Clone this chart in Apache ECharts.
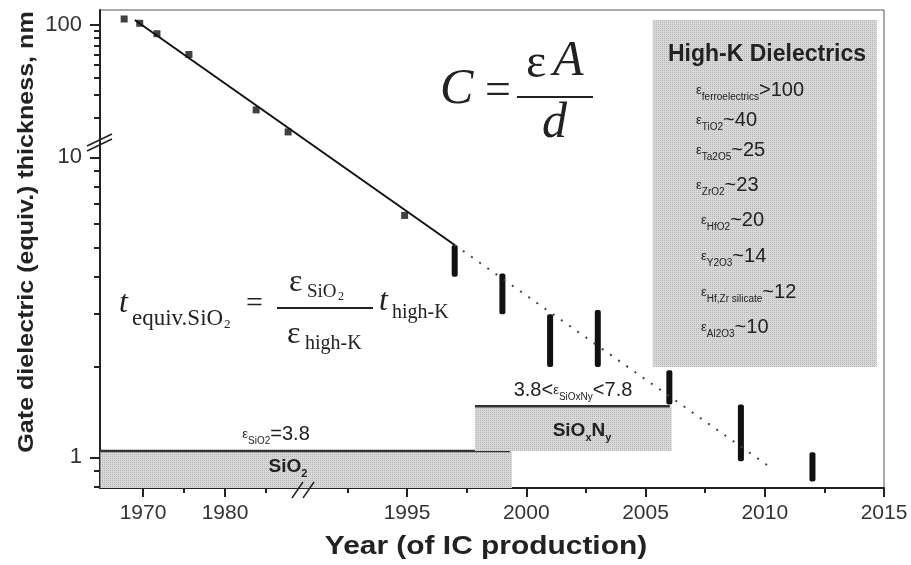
<!DOCTYPE html>
<html>
<head>
<meta charset="utf-8">
<script src="https://cdn.jsdelivr.net/npm/echarts@6/dist/echarts.min.js"></script>
<style>
  html, body { margin: 0; background: #fff; }
  #chart { width: 911px; height: 565px; }
</style>
</head>
<body>
<div id="chart"></div>
<script>
// measured gate oxide thickness (nm) vs year
const measuredYears = [1967.7, 1969.6, 1971.7, 1975.6, 1983.8, 1987.7, 1994.9]
const measuredThickness = [111, 103, 86, 60, 23, 15.7, 6.4]
// fitted trend
const fitYears = [1969.0, 1997]
const fitThickness = [109, 5.1]
// roadmap ranges
const roadmapYears = [1997, 1999, 2001, 2003, 2006, 2009, 2012]
const roadmapLow = [4.0, 3.0, 2.0, 2.0, 1.5, 0.97, 0.83]
const roadmapHigh = [5.1, 4.1, 3.0, 3.1, 1.95, 1.5, 1.04]
// dotted extrapolation
const trendYears = [1997, 2010.2]
const trendThickness = [5.1, 0.93]
// shaded material regions
const bandNames = ['SiO2', 'SiOxNy', 'High-K']
const bandStartYears = [1964.8, 1997.85, 2005.3]
const bandEndYears = [1999.4, 2006.1, 2014.7]
const bandLow = [0.79, 1.05, 2.0]
const bandHigh = [1.05, 1.48, 109]
// axis ticks
const xMajorYears = [1970, 1980, 1995, 2000, 2005, 2010, 2015]
const xMinorYears = [1975, 1985, 1992.5, 1997.5, 2002.5, 2007.5, 2012.5]
const yMajorTicks = [1, 10, 100]
const yMinorTicks = [0.8, 0.9, 2, 3, 4, 5, 6, 7, 8, 9, 20, 30, 40, 50, 60, 70, 80, 90]
// high-K list
const highKMaterials = ['ferroelectrics', 'TiO2', 'Ta2O5', 'ZrO2', 'HfO2', 'Y2O3', 'Hf,Zr silicate', 'Al2O3']
const highKValues = ['>100', '~40', '~25', '~23', '~20', '~14', '~12', '~10']

// broken axes -> piecewise mapping into plot units
function xv(yr) {
  return yr < 1990 ? 43 + (yr - 1970) * 8.2 : 307 + (yr - 1995) * 23.85
}
function yv(t) {
  return t < 12.5 ? (Math.log10(t) - Math.log10(0.79)) * 300 : 463 + (Math.log10(t) - 2) * 133
}

// fine stipple fill like the scanned grey
function stipple() {
  const c = document.createElement('canvas')
  c.width = 2; c.height = 2
  const g = c.getContext('2d')
  g.fillStyle = '#d8d8d8'; g.fillRect(0, 0, 2, 2)
  g.fillStyle = '#b6b6b6'; g.fillRect(0, 0, 1, 1)
  return { image: c, repeat: 'repeat' }
}
const greyFill = stipple()

const SANS = 'Liberation Sans, Arial, sans-serif'
const SERIF = 'Liberation Serif, Times New Roman, serif'
const INK = '#222'

function txt(x, y, text, font, extra, el) {
  return Object.assign({
    type: 'text', x: x, y: y, z: 20,
    style: Object.assign({ text: text, font: font, fill: INK, align: 'left', verticalAlign: 'middle' }, extra || {})
  }, el || {})
}
function seg(x1, y1, x2, y2, w) {
  return { type: 'line', z: 20, shape: { x1: x1, y1: y1, x2: x2, y2: y2 }, style: { stroke: INK, lineWidth: w || 2 } }
}

const subRich = {
  e: { fontSize: 13, fontFamily: SANS, color: INK },
  s: { fontSize: 10, fontFamily: SANS, color: INK, verticalAlign: 'bottom', lineHeight: 9 },
  v: { fontSize: 20, fontFamily: SANS, color: INK, lineHeight: 24 },
  b: { fontSize: 19, fontFamily: SANS, fontWeight: 'bold', color: INK, lineHeight: 24 },
  bs: { fontSize: 11, fontFamily: SANS, fontWeight: 'bold', color: INK, verticalAlign: 'bottom', lineHeight: 10 }
}

let graphics = []
// C = eps A / d
graphics.push(txt(440, 90, 'C', 'italic 50px ' + SERIF))
graphics.push(txt(485, 92, '=', '46px ' + SERIF))
graphics.push(seg(517, 97, 593, 97, 2))
graphics.push(txt(526, 64, 'ε', '48px ' + SERIF))
graphics.push(txt(553, 62, 'A', 'italic 50px ' + SERIF))
graphics.push(txt(542, 124, 'd', 'italic 50px ' + SERIF))
// t_equiv formula
graphics.push(txt(119, 304, 't', 'italic 32px ' + SERIF))
graphics.push(txt(132, 319, 'equiv.SiO', '23px ' + SERIF))
graphics.push(txt(224, 325, '2', '13px ' + SERIF))
graphics.push(txt(246, 304, '=', '30px ' + SERIF))
graphics.push(seg(277, 308, 373, 308, 2))
graphics.push(txt(289, 283, 'ε', '32px ' + SERIF))
graphics.push(txt(307, 292, 'SiO', '19px ' + SERIF))
graphics.push(txt(338, 297, '2', '12px ' + SERIF))
graphics.push(txt(287, 335, 'ε', '32px ' + SERIF))
graphics.push(txt(305, 344, 'high-K', '20px ' + SERIF))
graphics.push(txt(379, 302, 't', 'italic 32px ' + SERIF))
graphics.push(txt(392, 313, 'high-K', '20px ' + SERIF))
// high-K box
graphics.push(txt(767, 55, 'High-K Dielectrics', 'bold 23px ' + SANS, { align: 'center' }))
const rowY = [90, 120, 150, 185, 220, 256, 292, 327]
highKMaterials.forEach(function (m, i) {
  graphics.push(txt(i < 4 ? 696 : 701, rowY[i], '{e|ε}{s|' + m + '}{v|' + highKValues[i] + '}', '20px ' + SANS, { rich: subRich }))
})
// band labels
graphics.push(txt(276, 434, '{e|ε}{s|SiO2}{v|=3.8}', '20px ' + SANS, { rich: subRich, align: 'center' }))
graphics.push(txt(288, 467, '{b|SiO}{bs|2}', 'bold 19px ' + SANS, { rich: subRich, align: 'center' }))
graphics.push(txt(573, 390, '{v|3.8<}{e|ε}{s|SiOxNy}{v|<7.8}', '20px ' + SANS, { rich: subRich, align: 'center' }))
graphics.push(txt(582, 431, '{b|SiO}{bs|x}{b|N}{bs|y}', 'bold 19px ' + SANS, { rich: subRich, align: 'center' }))
// axis titles (wide lettering in the original)
graphics.push(txt(27, 232, 'Gate dielectric (equiv.) thickness, nm', 'bold 22px ' + SANS,
  { align: 'center' }, { rotation: Math.PI / 2, scaleX: 1.14 }))
graphics.push(txt(486, 547, 'Year (of IC production)', 'bold 26px ' + SANS,
  { align: 'center' }, { scaleX: 1.15 }))
// axis break marks
graphics.push(seg(87, 146, 112, 134, 1.5))
graphics.push(seg(87, 151, 112, 139, 1.5))
graphics.push(seg(292, 498, 303, 482, 1.5))
graphics.push(seg(303, 498, 314, 482, 1.5))

const xMajor = xMajorYears.map(xv)
const yMajor = yMajorTicks.map(yv)

const option = {
  backgroundColor: '#fff',
  animation: false,
  grid: { left: 100, right: 27, top: 10, bottom: 77, show: true, borderColor: '#555', borderWidth: 1 },
  xAxis: [{
    type: 'value', min: 0, max: 784, position: 'bottom',
    axisLine: { lineStyle: { color: INK, width: 2 } },
    axisTick: { customValues: xMajor, length: 9, lineStyle: { color: INK, width: 2 } },
    axisLabel: {
      customValues: xMajor, margin: 15, fontFamily: SANS, fontSize: 21, color: '#333',
      formatter: function (v) {
        const i = xMajor.findIndex(function (m) { return Math.abs(m - v) < 0.01 })
        return i < 0 ? '' : String(xMajorYears[i])
      }
    },
    splitLine: { show: false }
  }, {
    type: 'value', min: 0, max: 784, position: 'bottom', offset: 0,
    axisLine: { show: false },
    axisTick: { customValues: xMinorYears.map(xv), length: 5, lineStyle: { color: INK, width: 2 } },
    axisLabel: { show: false },
    splitLine: { show: false }
  }],
  yAxis: [{
    type: 'value', min: 0, max: 478, position: 'left',
    axisLine: { lineStyle: { color: INK, width: 2 } },
    axisTick: { customValues: yMajor, length: 10, lineStyle: { color: INK, width: 2 } },
    axisLabel: {
      customValues: yMajor, margin: 18, fontFamily: SANS, fontSize: 22, color: '#333',
      formatter: function (v) {
        const i = yMajor.findIndex(function (m) { return Math.abs(m - v) < 0.01 })
        return i < 0 ? '' : String(yMajorTicks[i])
      }
    },
    splitLine: { show: false }
  }, {
    type: 'value', min: 0, max: 478, position: 'left', offset: 0,
    axisLine: { show: false },
    axisTick: { customValues: yMinorTicks.map(yv), length: 6, lineStyle: { color: INK, width: 2 } },
    axisLabel: { show: false },
    splitLine: { show: false }
  }],
  series: [{
    // material regions
    type: 'custom', z: 1,
    renderItem: function (params, api) {
      const p0 = api.coord([api.value(0), api.value(3)])
      const p1 = api.coord([api.value(1), api.value(2)])
      const kids = [{
        type: 'rect',
        shape: { x: p0[0], y: p0[1], width: p1[0] - p0[0], height: p1[1] - p0[1] },
        style: { fill: greyFill }
      }]
      if (params.dataIndex < 2) {
        kids.push({ type: 'line', shape: { x1: p0[0], y1: p0[1], x2: p1[0] - 2, y2: p0[1] }, style: { stroke: '#333', lineWidth: 2.5 } })
      }
      return { type: 'group', children: kids }
    },
    encode: { x: [0, 1], y: [2, 3] },
    data: bandNames.map(function (n, i) {
      return [xv(bandStartYears[i]), xv(bandEndYears[i]), yv(bandLow[i]), yv(bandHigh[i])]
    })
  }, {
    // roadmap bars
    type: 'custom', z: 3,
    renderItem: function (params, api) {
      const lo = api.coord([api.value(0), api.value(1)])
      const hi = api.coord([api.value(0), api.value(2)])
      return { type: 'rect', shape: { x: lo[0] - 3, y: hi[1], width: 6, height: lo[1] - hi[1], r: 2 }, style: { fill: '#111' } }
    },
    encode: { x: 0, y: [1, 2] },
    data: roadmapYears.map(function (y, i) { return [xv(y), yv(roadmapLow[i]), yv(roadmapHigh[i])] })
  }, {
    type: 'line', z: 4, symbol: 'none',
    lineStyle: { color: '#111', width: 2 },
    data: fitYears.map(function (y, i) { return [xv(y), yv(fitThickness[i])] })
  }, {
    type: 'line', z: 4, symbol: 'none',
    lineStyle: { color: '#444', width: 2, type: [2, 8] },
    data: trendYears.map(function (y, i) { return [xv(y), yv(trendThickness[i])] })
  }, {
    type: 'scatter', z: 5, symbol: 'rect', symbolSize: 7,
    itemStyle: { color: '#111' },
    data: measuredYears.map(function (y, i) { return [xv(y), yv(measuredThickness[i])] })
  }],
  graphic: graphics
}

const chart = echarts.init(document.getElementById('chart'))
chart.setOption(option)
</script>
</body>
</html>
